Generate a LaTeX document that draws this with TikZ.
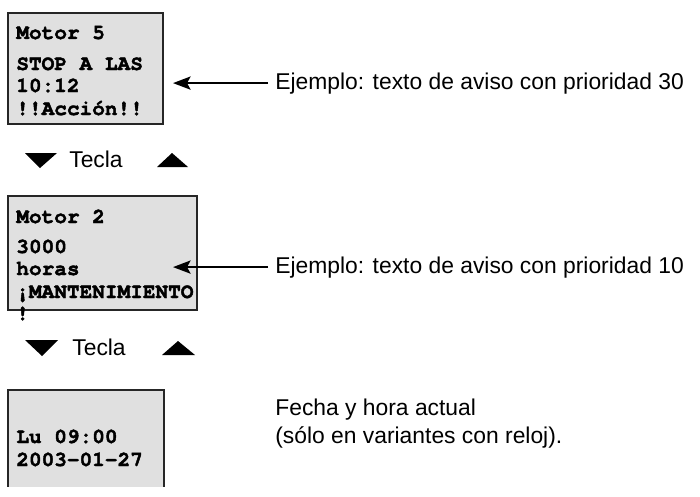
\documentclass[tikz,border=0pt]{standalone}
\usepackage{fontspec}
\setmainfont{Liberation Sans}\setmonofont[BoldFeatures={FakeBold=2}]{TeX Gyre Cursor}
\usetikzlibrary{arrows.meta}
\tikzset{>={Stealth[length=10pt,width=7.5pt,inset=2pt]},
  caja/.style={draw=black!85,fill=black!12,line width=.6pt},
  pant/.style={font=\ttfamily\bfseries\fontsize{12}{14}\selectfont,anchor=base west,inner sep=0},
  txt/.style={font=\fontsize{13}{16}\selectfont,anchor=base west},
  flecha/.style={line width=1.1pt,->}}
\begin{document}
\begin{tikzpicture}
\useasboundingbox (0,0) rectangle (14,9.92);
% pantalla 1
\draw[caja] (0.16,9.66) rectangle (3.26,7.44);
\node[pant] (a1) at (0.32,9.14){Motor 5};\node[pant] (a2) at (0.32,8.52){STOP A LAS};
\node[pant] (a3) at (0.32,8.08){10:12};\node[pant] (a4) at (0.32,7.62){!!Acción!!};
\node[txt,inner sep=4pt] (ex1) at (5.36,8.14){Ejemplo: texto de aviso con prioridad 30};
\coordinate (t1) at (3.46,8.28);\draw[flecha] (ex1.west)--(ex1.west-|t1);
% tecla 1
\fill (0.5,6.86)--(1.14,6.86)--(0.8,6.56)--cycle;\fill (3.14,6.58)--(3.76,6.58)--(3.44,6.86)--cycle;
\node[txt,inner sep=0] (tec1) at (1.38,6.58){Tecla};
% pantalla 2
\draw[caja] (0.16,6) rectangle (3.94,3.72);
\node[pant] (b1) at (0.32,5.46){Motor 2};\node[pant] (b2) at (0.32,4.86){3000};
\node[pant] (b3) at (0.32,4.42){horas};\node[pant] (b4) at (0.32,3.96){¡MANTENIMIENTO};
\node[pant] (b5) at (0.32,3.52){!};
\node[txt,inner sep=4pt] (ex2) at (5.36,4.46){Ejemplo: texto de aviso con prioridad 10};
\coordinate (t2) at (3.46,4.6);\draw[flecha] (ex2.west)--(ex2.west-|t2);
% tecla 2
\fill (0.5,3.12)--(1.16,3.12)--(0.84,2.8)--cycle;\fill (3.24,2.82)--(3.9,2.82)--(3.56,3.1)--cycle;
\node[txt,inner sep=0] (tec2) at (1.44,2.82){Tecla};
% pantalla 3 (cortada abajo)
\begin{scope}\clip (0,0.2) rectangle (14,9.92);
\draw[caja] (0.16,2.12) rectangle (3.28,-0.3);
\end{scope}
\node[pant] (c1) at (0.32,1.06){Lu 09:00};\node[pant] (c2) at (0.32,0.6){2003-01-27};
\node[txt,inner sep=0] (f1) at (5.5,1.62){Fecha y hora actual};
\node[txt,inner sep=0] (f2) at (5.5,1.06){(sólo en variantes con reloj).};
\end{tikzpicture}
\end{document}
